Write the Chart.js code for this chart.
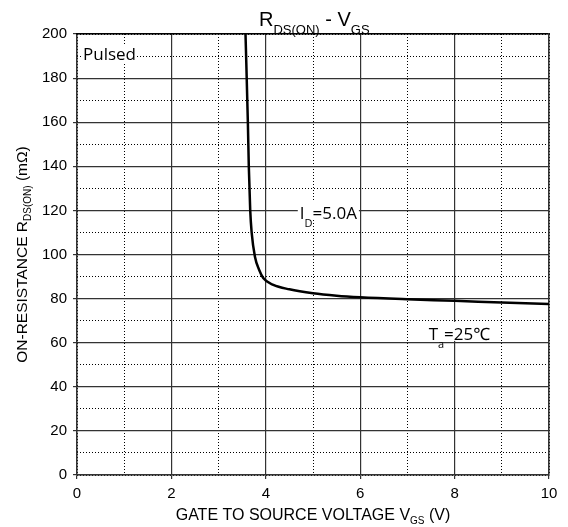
<!DOCTYPE html>
<html>
<head>
<meta charset="utf-8">
<script src="https://cdn.jsdelivr.net/npm/chart.js@4"></script>
<style>
  html, body { margin: 0; padding: 0; background: #fff; }
  #wrap { width: 568px; height: 527px; }
</style>
</head>
<body>
<div id="wrap"><canvas id="chart" width="568" height="527"></canvas></div>
<script>
// curve
const vgs = [3.57, 3.62, 3.64, 3.67, 3.70, 3.77, 3.86, 3.95, 4.16, 4.5, 5.0, 5.5, 6, 7, 8, 9, 10];
const rds = [200, 160, 140, 120, 110, 99, 93, 89.2, 86.2, 84.2, 82.4, 81.3, 80.6, 79.7, 79, 78.2, 77.5];

const xTicks = [0, 2, 4, 6, 8, 10];
const yTicks = [0, 20, 40, 60, 80, 100, 120, 140, 160, 180, 200];

// text labels inside the plot: [x, y, main, sub, rest]
const notes = [
  [4.72, 119, 'I', 'D', '=5.0A'],
  [7.45, 64, 'T', 'a', '=25℃'],
];

const points = vgs.map((v, i) => ({ x: v, y: rds[i] }));

const tf = '"Liberation Sans", Arial, sans-serif';
const tickFont = { family: tf, size: 15 };
const textFont = '"Open Sans", "Noto Sans", sans-serif';

// draws "main" + subscript + "rest" starting at x, baseline y
function subText(ctx, x, y, main, sub, rest, size, subSize, family, drop) {
  ctx.font = size + 'px ' + family;
  ctx.fillText(main, x, y);
  let w = ctx.measureText(main).width;
  ctx.font = subSize + 'px ' + family;
  ctx.fillText(sub, x + w, y + drop);
  w += ctx.measureText(sub).width;
  ctx.font = size + 'px ' + family;
  ctx.fillText(rest, x + w, y);
}

function subWidth(ctx, main, sub, rest, size, subSize, family) {
  ctx.font = size + 'px ' + family;
  let w = ctx.measureText(main).width + ctx.measureText(rest).width;
  ctx.font = subSize + 'px ' + family;
  return w + ctx.measureText(sub).width;
}

const labelsPlugin = {
  id: 'labels',
  afterDraw(chart) {
    const ctx = chart.ctx;
    const area = chart.chartArea;
    const xs = chart.scales.x, ys = chart.scales.y;
    ctx.save();
    ctx.fillStyle = '#000';
    ctx.textBaseline = 'alphabetic';
    ctx.textAlign = 'left';

    // title
    let tx = 259;
    ctx.font = '20px ' + tf;
    ctx.fillText('R', tx, 26);
    let w = ctx.measureText('R').width;
    ctx.font = '13px ' + tf;
    ctx.fillText('DS(ON)', tx + w, 34);
    w += ctx.measureText('DS(ON)').width;
    ctx.font = '20px ' + tf;
    ctx.fillText(' - V', tx + w, 26);
    w += ctx.measureText(' - V').width;
    ctx.font = '13px ' + tf;
    ctx.fillText('GS', tx + w, 34);

    // x axis title
    let tw = subWidth(ctx, 'GATE TO SOURCE VOLTAGE V', 'GS', ' (V)', 16, 10, tf);
    subText(ctx, (area.left + area.right) / 2 - tw / 2, 520,
      'GATE TO SOURCE VOLTAGE V', 'GS', ' (V)', 16, 10, tf, 4);

    // y axis title
    ctx.save();
    ctx.translate(27, (area.top + area.bottom) / 2);
    ctx.rotate(-Math.PI / 2);
    tw = subWidth(ctx, 'ON-RESISTANCE R', 'DS(ON)', ' (mΩ)', 15.5, 10, tf);
    subText(ctx, -tw / 2, 0, 'ON-RESISTANCE R', 'DS(ON)', ' (mΩ)', 15.5, 10, tf, 4);
    ctx.restore();

    // Pulsed
    ctx.font = '17px ' + textFont;
    let pw = ctx.measureText('Pulsed').width;
    ctx.fillStyle = '#fff';
    ctx.fillRect(area.left + 5, 46, pw + 2, 18);
    ctx.fillStyle = '#000';
    ctx.fillText('Pulsed', area.left + 6, 60);

    // in-plot notes
    notes.forEach(n => {
      const px = xs.getPixelForValue(n[0]);
      const py = ys.getPixelForValue(n[1]);
      const nw = subWidth(ctx, n[2], n[3], n[4], 17, 11, textFont);
      ctx.fillStyle = '#fff';
      ctx.fillRect(px - 2, py - 12, nw + 4, 19);
      ctx.fillStyle = '#000';
      subText(ctx, px, py + 6, n[2], n[3], n[4], 17, 11, textFont, 8);
    });
    ctx.restore();
  }
};

new Chart(document.getElementById('chart'), {
  type: 'scatter',
  data: {
    datasets: [{
      data: points,
      showLine: true,
      borderColor: '#000',
      borderWidth: 2.5,
      pointRadius: 0,
      cubicInterpolationMode: 'monotone',
      fill: false,
    }]
  },
  options: {
    responsive: false,
    animation: false,
    layout: { padding: { top: 34, right: 19, left: 0, bottom: 0 } },
    plugins: { legend: { display: false }, tooltip: { enabled: false } },
    scales: {
      xMinor: {
        type: 'linear', position: 'bottom', min: 0, max: 10,
        ticks: { stepSize: 1, display: false },
        grid: { color: '#000', lineWidth: 1, drawTicks: false },
        border: { display: false, dash: [1, 2] },
        afterFit: s => { s.height = 0; },
      },
      yMinor: {
        type: 'linear', position: 'left', min: 0, max: 200,
        ticks: { stepSize: 10, display: false },
        grid: { color: '#000', lineWidth: 1, drawTicks: false },
        border: { display: false, dash: [1, 2] },
        afterFit: s => { s.width = 0; },
      },
      x: {
        type: 'linear', position: 'bottom', min: 0, max: 10,
        afterBuildTicks: s => { s.ticks = xTicks.map(v => ({ value: v })); },
        ticks: { color: '#000', font: tickFont, padding: 6 },
        grid: { color: '#333', lineWidth: 1.2, drawTicks: true, tickLength: 4 },
        border: { color: '#333', width: 1.5 },
        afterFit: s => { s.height = 52; },
      },
      y: {
        type: 'linear', position: 'left', min: 0, max: 200,
        afterBuildTicks: s => { s.ticks = yTicks.map(v => ({ value: v })); },
        ticks: { color: '#000', font: tickFont, padding: 6 },
        grid: { color: '#333', lineWidth: 1.2, drawTicks: true, tickLength: 4 },
        border: { color: '#333', width: 1.5 },
        afterFit: s => { s.width = 77; },
      },
      xTop: {
        type: 'linear', position: 'top', min: 0, max: 10,
        ticks: { display: false },
        grid: { display: false },
        border: { color: '#000', width: 1.5 },
        afterFit: s => { s.height = 0; },
      },
      yRight: {
        type: 'linear', position: 'right', min: 0, max: 200,
        ticks: { display: false },
        grid: { display: false },
        border: { color: '#333', width: 1.5 },
        afterFit: s => { s.width = 0; },
      },
    }
  },
  plugins: [labelsPlugin]
});
</script>
</body>
</html>
